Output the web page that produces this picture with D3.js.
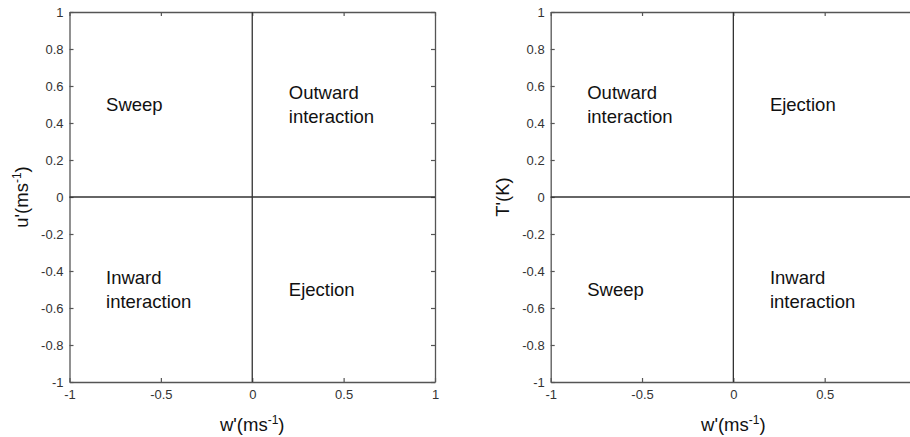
<!DOCTYPE html>
<html>
<head>
<meta charset="utf-8">
<script src="https://cdn.jsdelivr.net/npm/d3@7"></script>
<style>
  html, body { margin: 0; padding: 0; background: #fff; overflow: hidden; }
  svg { display: block; font-family: "Liberation Sans", Arial, sans-serif; }
</style>
</head>
<body>
<svg id="chart" width="910" height="437"></svg>
<script>
// Axis ranges and tick values
const xDomain = [-1, 1];
const yDomain = [-1, 1];
const xTickValues = [-1, -0.5, 0, 0.5, 1];
const yTickValues = [-1, -0.8, -0.6, -0.4, -0.2, 0, 0.2, 0.4, 0.6, 0.8, 1];

// Quadrant names for each panel (momentum flux and heat flux)
const uwQuadrants = [
  { lines: ["Sweep"], x: -0.8, y: 0.5 },
  { lines: ["Outward", "interaction"], x: 0.2, y: 0.5 },
  { lines: ["Inward", "interaction"], x: -0.8, y: -0.5 },
  { lines: ["Ejection"], x: 0.2, y: -0.5 }
];
const wtQuadrants = [
  { lines: ["Outward", "interaction"], x: -0.8, y: 0.5 },
  { lines: ["Ejection"], x: 0.2, y: 0.5 },
  { lines: ["Sweep"], x: -0.8, y: -0.5 },
  { lines: ["Inward", "interaction"], x: 0.2, y: -0.5 }
];

const W = 910;
const svg = d3.select("#chart");
const axisColor = "#555";
const tickLabelColor = "#333";

function fmt(v) { return v === 0 ? "0" : String(v); }

function panel(left, right, top, bottom, quadrants, yTitle) {
  const x = d3.scaleLinear().domain(xDomain).range([left, right]);
  const y = d3.scaleLinear().domain(yDomain).range([bottom, top]);
  const g = svg.append("g");
  const tickLen = 4;

  // bottom axis (labels only for ticks that fall inside the drawing area)
  const ax = g.append("g").attr("transform", `translate(0,${bottom})`)
    .call(d3.axisBottom(x).tickValues(xTickValues)
      .tickFormat(v => x(v) + 6 > W ? "" : fmt(v))
      .tickSizeInner(-tickLen).tickSizeOuter(0).tickPadding(8));
  // left axis
  const ay = g.append("g").attr("transform", `translate(${left},0)`)
    .call(d3.axisLeft(y).tickValues(yTickValues).tickFormat(fmt).tickSizeInner(-tickLen).tickSizeOuter(0).tickPadding(6));
  // top / right mirror ticks
  const at = g.append("g").attr("transform", `translate(0,${top})`)
    .call(d3.axisTop(x).tickValues(xTickValues).tickFormat("").tickSizeInner(-tickLen).tickSizeOuter(0));
  const ar = g.append("g").attr("transform", `translate(${right},0)`)
    .call(d3.axisRight(y).tickValues(yTickValues).tickFormat("").tickSizeInner(-tickLen).tickSizeOuter(0));

  [ax, ay, at, ar].forEach(a => {
    a.select(".domain").attr("stroke", axisColor).attr("stroke-width", 1.3);
    a.selectAll(".tick line").attr("stroke", axisColor).attr("stroke-width", 1.2);
    a.selectAll(".tick text").attr("fill", tickLabelColor)
      .style("font-size", "13px").style("font-family", "Liberation Sans, Arial, sans-serif");
  });

  // zero lines dividing the quadrants
  g.append("line").attr("x1", x(0)).attr("x2", x(0)).attr("y1", top).attr("y2", bottom)
    .attr("stroke", "#333").attr("stroke-width", 1.3);
  g.append("line").attr("x1", left).attr("x2", right).attr("y1", y(0)).attr("y2", y(0))
    .attr("stroke", "#333").attr("stroke-width", 1.3);

  // quadrant names
  quadrants.forEach(q => {
    const n = q.lines.length;
    const lh = 24;
    const t = g.append("text").attr("x", x(q.x)).attr("y", y(q.y))
      .attr("fill", "#111").style("font-size", "18.5px");
    q.lines.forEach((s, i) => {
      t.append("tspan").attr("x", x(q.x))
        .attr("dy", i === 0 ? (-(n - 1) * lh / 2 + 6.5) : lh).text(s);
    });
  });

  // x-axis title w'(ms^-1)
  const xt = g.append("text").attr("x", (left + right) / 2).attr("y", 431)
    .attr("text-anchor", "middle").attr("fill", "#111").style("font-size", "18.5px");
  xt.append("tspan").text("w'(ms");
  xt.append("tspan").attr("dy", -7).style("font-size", "12px").text("-1");
  xt.append("tspan").attr("dy", 7).text(")");

  // y-axis title
  const yt = g.append("text")
    .attr("transform", `translate(${left - 42},${y(0)}) rotate(-90)`)
    .attr("text-anchor", "middle").attr("fill", "#111").style("font-size", "18.5px");
  yTitle(yt);
}

panel(69.5, 435, 12, 382, uwQuadrants, t => {
  t.append("tspan").text("u'(ms");
  t.append("tspan").attr("dy", -7).style("font-size", "12px").text("-1");
  t.append("tspan").attr("dy", 7).text(")");
});
panel(550.7, 916, 12, 382, wtQuadrants, t => {
  t.append("tspan").text("T'(K)");
});
</script>
</body>
</html>
